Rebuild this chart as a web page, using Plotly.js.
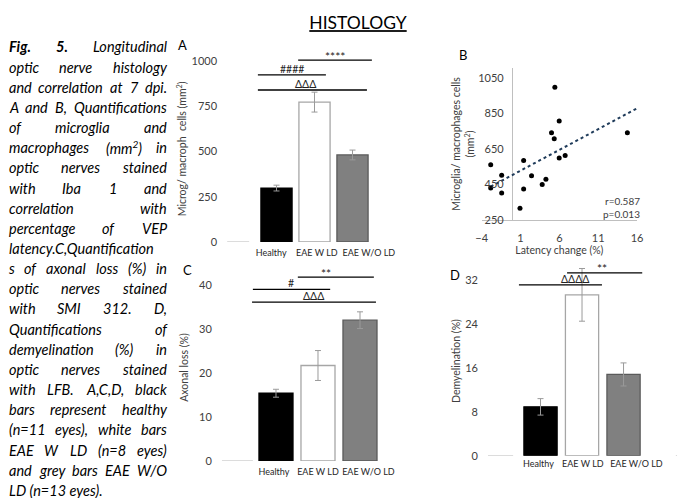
<!DOCTYPE html>
<html>
<head>
<meta charset="utf-8">
<script src="https://cdn.plot.ly/plotly-3.0.1.min.js"></script>
<style>html,body{margin:0;padding:0;background:#fff;}#chart{width:689px;height:498px;}</style>
</head>
<body>
<div id="chart"></div>
<script>
// ---------- DATA ----------
const categories = ['Healthy', 'EAE W LD', 'EAE W/O LD'];
const microgMean = [298, 773, 481];
const microgErr = [16, 55, 27];
const axonalMean = [15.4, 21.7, 32.0];
const axonalErr = [0.9, 3.4, 1.9];
const demyelMean = [8.9, 29.3, 14.8];
const demyelErr = [1.5, 4.8, 2.1];
const latencyChange = [-2.84, -2.84, -1.43, -1.43, 0.93, 1.40, 1.40, 2.42, 3.79, 4.27, 4.99, 5.34, 5.42, 5.98, 5.98, 6.75, 14.76];
const microgCells = [561, 430, 501, 402, 316, 585, 424, 499, 450, 479, 741, 707, 996, 806, 598, 612, 741];
const corrText = ['r=0.587', 'p=0.013'];
const barColors = ['#000000', '#ffffff', '#808080'];
const barLines = ['#000000', '#a6a6a6', '#5a5a5a'];
const captionLines = [
  '<b>Fig.</b> <b>5.</b> Longitudinal',
  'optic nerve histology',
  'and correlation at 7 dpi.',
  'A and B, Quantifications',
  'of microglia and',
  'macrophages (mm<sup>2</sup>) in',
  'optic nerves stained',
  'with Iba 1 and',
  'correlation with',
  'percentage of VEP',
  'latency.C,Quantification',
  's of axonal loss (%) in',
  'optic nerves stained',
  'with SMI 312. D,',
  'Quantifications of',
  'demyelination (%) in',
  'optic nerves stained',
  'with LFB. A,C,D, black',
  'bars represent healthy',
  '(n=11 eyes), white bars',
  'EAE W LD (n=8 eyes)',
  'and grey bars EAE W/O',
  'LD (n=13 eyes).'
];

// ---------- LAYOUT HELPERS ----------
const W = 689, H = 498;
const FONT = 'Lato, "Open Sans", sans-serif';
const xd = (a, b) => [a / W, b / W];
const yd = (top, bot) => [1 - bot / H, 1 - top / H];
const px = v => v / W, py = v => 1 - v / H;
const catIdx = categories.map((_, i) => i);

function barTrace(mean, err, xa, ya, w) {
  return {
    type: 'bar', x: catIdx, y: mean, xaxis: xa, yaxis: ya, width: w,
    marker: {color: barColors, line: {color: barLines, width: 1.3}},
    error_y: {type: 'data', array: err, visible: true, color: '#9a9a9a', thickness: 1, width: 3},
    showlegend: false, hoverinfo: 'skip'
  };
}

// regression for trendline
const n = latencyChange.length;
const mx = latencyChange.reduce((s, v) => s + v, 0) / n;
const my = microgCells.reduce((s, v) => s + v, 0) / n;
let sxy = 0, sxx = 0;
for (let i = 0; i < n; i++) { sxy += (latencyChange[i] - mx) * (microgCells[i] - my); sxx += (latencyChange[i] - mx) ** 2; }
const slope = sxy / sxx, icpt = my - slope * mx;
const trendX = [Math.min(...latencyChange), 16];
const trendY = trendX.map(x => icpt + slope * x);

const traces = [
  barTrace(microgMean, microgErr, 'x', 'y', 0.82),
  {type: 'scatter', mode: 'lines', x: trendX, y: trendY, xaxis: 'x2', yaxis: 'y2',
   line: {color: '#1f3b5a', width: 2, dash: 'dot'}, showlegend: false, hoverinfo: 'skip'},
  {type: 'scatter', mode: 'markers', x: latencyChange, y: microgCells, xaxis: 'x2', yaxis: 'y2',
   marker: {color: '#000', size: 5}, showlegend: false, hoverinfo: 'skip'},
  barTrace(axonalMean, axonalErr, 'x3', 'y3', 0.81),
  barTrace(demyelMean, demyelErr, 'x4', 'y4', 0.8)
];

const tickFont = {family: FONT, size: 11, color: '#404040'};
const catFont = {family: FONT, size: 9, color: '#262626'};
const titleFont = {family: FONT, size: 10.5, color: '#404040'};

// category labels are offset like the Excel original (they avoid overlapping)
function catAxis(domain, range, anchor, labelPos, standoff) {
  return {domain, range, anchor, type: 'linear', showgrid: false, zeroline: false, showline: false,
    ticks: '', tickmode: 'array', tickvals: labelPos, ticktext: categories, tickangle: 0,
    tickfont: catFont, ticklabelstandoff: standoff, fixedrange: true};
}
function valAxis(domain, range, anchor, dtick, title, standoff) {
  return {domain, range, anchor, showgrid: false, zeroline: false, showline: false, ticks: '',
    tick0: 0, dtick, tickfont: tickFont, ticklabelstandoff: 9,
    title: {text: title, font: titleFont, standoff}, fixedrange: true};
}

const bDomX = xd(481.7, 637);
const layout = {
  width: W, height: H, margin: {l: 0, r: 0, t: 0, b: 0},
  paper_bgcolor: '#fff', plot_bgcolor: 'rgba(0,0,0,0)',
  font: {family: FONT},
  title: {text: '<u>HISTOLOGY</u>', x: px(358), xanchor: 'center', y: py(23), yanchor: 'middle',
    font: {family: FONT, size: 17.5, color: '#000'}},
  xaxis: catAxis(xd(227.1, 375.3), [-1.3, 2.6], 'y', [-0.14, 1.06, 2.43], 4),
  yaxis: valAxis(yd(55.6, 242), [0, 1030], 'x', 250, 'Microg/ macroph  cells (mm<sup>2</sup>)', 2),
  xaxis2: {domain: bDomX, range: [-4, 16], anchor: 'y2', tick0: -4, dtick: 5, showgrid: false,
    zeroline: true, zerolinecolor: '#bfbfbf', zerolinewidth: 1, showline: true, linecolor: '#bfbfbf', linewidth: 1,
    ticks: '', tickfont: tickFont, ticklabelstandoff: 8,
    title: {text: 'Latency change (%)', font: titleFont, standoff: 3}, fixedrange: true},
  yaxis2: {domain: yd(67.9, 220), range: [250, 1105], anchor: 'free',
    position: bDomX[0] + (bDomX[1] - bDomX[0]) * (0 - (-4)) / 20,
    tick0: 250, dtick: 200, showgrid: false, zeroline: false, showline: false, ticks: '',
    tickfont: tickFont, ticklabelstandoff: 9,
    title: {text: 'Microglia/ macrophages cells<br>(mm<sup>2</sup>)', font: titleFont, standoff: 0}, fixedrange: true},
  xaxis3: catAxis(xd(221.8, 385.2), [-1.29, 2.6], 'y3', [-0.05, 1.0, 2.2], 4),
  yaxis3: valAxis(yd(274, 461), [0, 42.5], 'x3', 10, 'Axonal loss (%)', 8),
  xaxis4: catAxis(xd(488, 677.5), [-1.265, 3.3], 'y4', [-0.05, 1.02, 2.31], 1),
  yaxis4: valAxis(yd(266.3, 455.7), [0, 34.5], 'x4', 8, 'Demyelination (%)', 2),
  shapes: [],
  annotations: []
};

// baseline stubs (Excel axis visible left of bars) and the end tick of D
[['x', 'y', -1.3, -0.72], ['x3', 'y3', -1.29, -0.55], ['x4', 'y4', -1.265, -0.66], ['x4', 'y4', 3.26, 3.29]].forEach(([xa, ya, a, b]) => {
  layout.shapes.push({type: 'line', xref: xa, yref: ya, x0: a, x1: b, y0: 0, y1: 0, line: {color: '#d0d0d0', width: 1.5}});
});

// significance brackets: [xaxis, yaxis, x0, x1, y, label, labelX]
const brackets = [
  ['x', 'y', 0.57, 2.51, 1005, '****', 1.54],
  ['x', 'y', -0.49, 1.30, 924, '####', 0.40],
  ['x', 'y', -0.49, 2.38, 840, '\u0394\u0394\u0394', 0.75],
  ['x3', 'y3', 0.52, 2.33, 41.8, '**', 1.19],
  ['x3', 'y3', -0.55, 1.29, 39.0, '#', 0.36],
  ['x3', 'y3', -0.57, 2.38, 36.1, '\u0394\u0394\u0394', 0.90],
  ['x4', 'y4', 0.64, 2.45, 33.3, '**', 1.48],
  ['x4', 'y4', -0.52, 1.48, 31.1, '\u0394\u0394\u0394\u0394', 0.83]
];
brackets.forEach(([xa, ya, a, b, yv, lab, lx]) => {
  const star = lab.includes('*');
  layout.shapes.push({type: 'line', xref: xa, yref: ya, x0: a, x1: b, y0: yv, y1: yv, line: {color: '#000', width: 1.3}});
  layout.annotations.push({xref: xa, yref: ya, x: lx, y: yv, text: lab, showarrow: false,
    xanchor: 'center', yanchor: 'middle', yshift: star ? 4 : 6,
    font: {family: FONT, size: star ? 12 : 10.5, color: '#222'}});
});

// panel letters
[['A', 182, 45], ['B', 463, 55], ['C', 187, 270], ['D', 455, 275]].forEach(([t, x, y]) => {
  layout.annotations.push({xref: 'paper', yref: 'paper', x: px(x), y: py(y), text: t, showarrow: false,
    xanchor: 'center', yanchor: 'middle', font: {family: FONT, size: 13, color: '#000'}});
});

// correlation text
corrText.forEach((t, i) => {
  layout.annotations.push({xref: 'paper', yref: 'paper', x: px(642), y: py(201 + i * 12.7), text: t, showarrow: false,
    xanchor: 'right', yanchor: 'middle', font: {family: FONT, size: 10, color: '#404040'}});
});

// caption, justified word by word
function buildCaption() {
  const ctx = document.createElement('canvas').getContext('2d');
  const left = 7.5, right = 166, lineW = right - left;
  const measure = (word, size) => {
    const bold = /<b>/.test(word);
    const plain = word.replace(/<sup>.*?<\/sup>/g, '\u2009').replace(/<[^>]+>/g, '');
    ctx.font = `italic ${bold ? 'bold ' : ''}${size}px Lato`;
    return ctx.measureText(plain).width;
  };
  let size = 14.5;
  captionLines.forEach(l => {
    ctx.font = `italic ${size}px Lato`;
    const w = ctx.measureText(l.replace(/<[^>]+>/g, '')).width;
    if (w > lineW) size = size * lineW / w;
  });
  const y0 = 47, pitch = 20.15;
  captionLines.forEach((line, li) => {
    const y = py(y0 + li * pitch);
    const words = line.split(' ');
    const last = li === captionLines.length - 1;
    if (last || words.length === 1) {
      layout.annotations.push({xref: 'paper', yref: 'paper', x: px(left), y, text: `<i>${line}</i>`, showarrow: false,
        xanchor: 'left', yanchor: 'middle', borderpad: 0, font: {family: FONT, size, color: '#000'}});
      return;
    }
    const widths = words.map(w => measure(w, size));
    const gap = (lineW - widths.reduce((s, v) => s + v, 0)) / (words.length - 1);
    let x = left;
    words.forEach((w, i) => {
      layout.annotations.push({xref: 'paper', yref: 'paper', x: px(x), y, text: `<i>${w}</i>`, showarrow: false,
        xanchor: 'left', yanchor: 'middle', borderpad: 0, font: {family: FONT, size, color: '#000'}});
      x += widths[i] + gap;
    });
  });
}

const draw = () => { buildCaption(); Plotly.newPlot('chart', traces, layout, {staticPlot: true, displayModeBar: false}); };
if (document.fonts && document.fonts.load) {
  Promise.all([document.fonts.load('italic 14px Lato'), document.fonts.load('italic bold 14px Lato')]).then(draw, draw);
} else { draw(); }
</script>
</body>
</html>
